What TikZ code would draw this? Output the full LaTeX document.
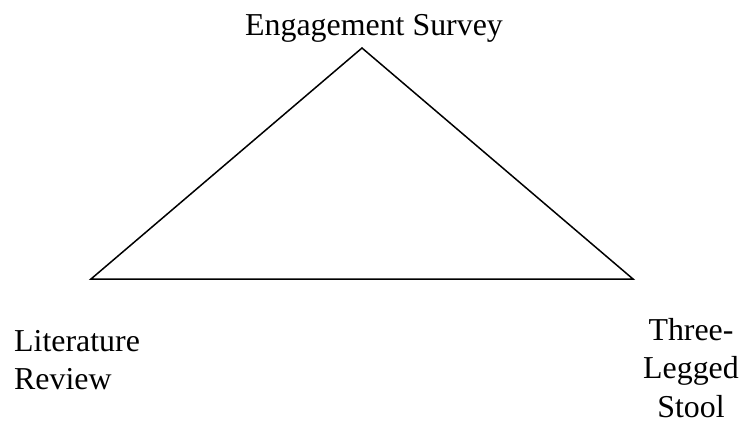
\documentclass[tikz,border=0pt]{standalone}
\usepackage{fontspec}
\setmainfont{Liberation Serif}
\usetikzlibrary{positioning}

\begin{document}
\begin{tikzpicture}[x=1bp,y=-1bp,font=\fontsize{32}{38.5}\selectfont]
\useasboundingbox (0,0) rectangle (741,425);
\coordinate (T) at (362,48);
\coordinate (L) at (91,279);
\coordinate (R) at (633,279);
\draw[line width=1.5bp] (T)--(L)--(R)--cycle;
% corner labels
\node[anchor=base,inner sep=0] (survey) at (374,35){Engagement Survey};
\node[anchor=north west,align=left,inner sep=0] (review) at (14,330){Literature\\Review};
\node[anchor=north,align=center,inner sep=0] (stool) at (691,318){Three-\\Legged\\Stool};
\end{tikzpicture}
\end{document}
